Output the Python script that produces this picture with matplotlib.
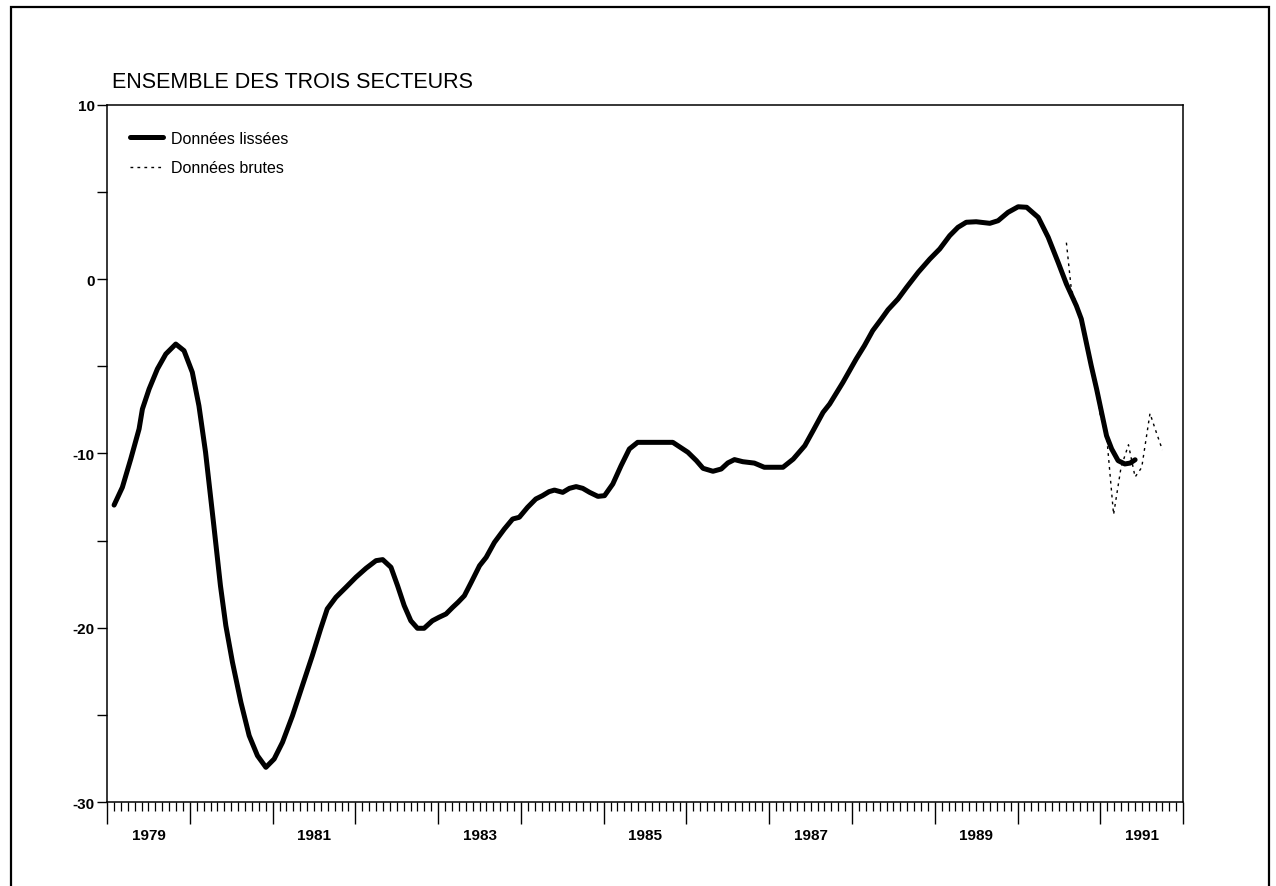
import numpy as np
import matplotlib
matplotlib.use('Agg')
import matplotlib.pyplot as plt
from matplotlib.patches import Rectangle
from matplotlib.ticker import MultipleLocator, NullFormatter

plt.rcParams['font.family'] = ['Liberation Sans', 'DejaVu Sans']

# Données lissées (années décimales)
smooth_t = [1979.085, 1979.185, 1979.286, 1979.387, 1979.427, 1979.508, 1979.608, 1979.71,
            1979.83, 1979.93, 1980.03, 1980.11, 1980.19, 1980.29, 1980.37, 1980.435,
            1980.515, 1980.617, 1980.717, 1980.817, 1980.919, 1981.019, 1981.12, 1981.24,
            1981.36, 1981.48, 1981.58, 1981.66, 1981.765, 1981.886, 1982.007, 1982.128,
            1982.249, 1982.33, 1982.43, 1982.51, 1982.59, 1982.67, 1982.75, 1982.83,
            1982.93, 1983.01, 1983.095, 1983.175, 1983.24, 1983.317, 1983.40, 1983.50,
            1983.58, 1983.68, 1983.80, 1983.90, 1983.98, 1984.08, 1984.18, 1984.26,
            1984.34, 1984.405, 1984.505, 1984.586, 1984.667, 1984.747, 1984.83, 1984.93,
            1985.01, 1985.11, 1985.21, 1985.31, 1985.41, 1985.635, 1985.835, 1986.017,
            1986.12, 1986.20, 1986.32, 1986.42, 1986.50, 1986.58, 1986.68, 1986.82,
            1986.94, 1987.166, 1987.29, 1987.43, 1987.53, 1987.65, 1987.73, 1987.89,
            1988.05, 1988.15, 1988.25, 1988.355, 1988.435, 1988.556, 1988.66, 1988.80,
            1988.94, 1989.06, 1989.18, 1989.28, 1989.38, 1989.50, 1989.665, 1989.765,
            1989.885, 1990.007, 1990.11, 1990.25, 1990.37, 1990.49, 1990.59, 1990.71,
            1990.77, 1990.83, 1990.89, 1990.955, 1991.015, 1991.075, 1991.137, 1991.215,
            1991.296, 1991.36, 1991.42]
smooth_v = [-12.96, -11.94, -10.32, -8.59, -7.45, -6.30, -5.15, -4.29,
            -3.72, -4.10, -5.34, -7.26, -9.93, -14.14, -17.59, -19.88,
            -21.98, -24.28, -26.19, -27.34, -28.01, -27.53, -26.57, -25.05,
            -23.32, -21.60, -20.07, -18.92, -18.25, -17.68, -17.10, -16.59,
            -16.15, -16.09, -16.53, -17.59, -18.73, -19.60, -20.03, -20.03,
            -19.60, -19.40, -19.21, -18.83, -18.54, -18.16, -17.39, -16.44,
            -15.96, -15.10, -14.33, -13.76, -13.66, -13.09, -12.61, -12.42,
            -12.19, -12.10, -12.23, -12.00, -11.90, -12.00, -12.23, -12.46,
            -12.42, -11.75, -10.70, -9.74, -9.36, -9.36, -9.36, -9.93,
            -10.41, -10.85, -11.02, -10.89, -10.54, -10.35, -10.47, -10.55,
            -10.79, -10.79, -10.32, -9.55, -8.69, -7.64, -7.16, -5.92,
            -4.58, -3.81, -2.95, -2.28, -1.75, -1.13, -0.46, 0.40,
            1.16, 1.74, 2.50, 2.98, 3.27, 3.30, 3.21, 3.36,
            3.84, 4.16, 4.13, 3.55, 2.41, 0.97, -0.27, -1.52,
            -2.28, -3.62, -4.96, -6.30, -7.64, -8.98, -9.74, -10.41,
            -10.60, -10.55, -10.36]

# Données brutes (mensuelles)
raw_t = [1990.59, 1990.65, 1990.75, 1990.83, 1990.92, 1991.00, 1991.08, 1991.16,
         1991.25, 1991.34, 1991.42, 1991.50, 1991.60, 1991.67, 1991.75]
raw_v = [2.1, -0.6, -1.9, -3.4, -5.6, -7.8, -9.2, -13.5,
         -10.8, -9.5, -11.35, -10.8, -7.7, -8.7, -9.8]

year_labels = [1979, 1981, 1983, 1985, 1987, 1989, 1991]
y_labels = [10, 0, -10, -20, -30]

fig = plt.figure(figsize=(12.76, 8.87), dpi=100)
ax = fig.add_axes([0.0839, 0.0947, 0.8433, 0.7858])

ax.plot(smooth_t, smooth_v, color='black', lw=3.6, solid_capstyle='round',
        solid_joinstyle='round', label='Données lissées')
ax.plot(raw_t, raw_v, color='black', lw=1.0, linestyle=(0, (2, 3)),
        label='Données brutes')

ax.set_xlim(1979, 1992)
ax.set_ylim(-30, 10)

# axe des x : années et mois
ax.set_xticks(np.arange(1979, 1993))
ax.xaxis.set_major_formatter(NullFormatter())
ax.xaxis.set_minor_locator(MultipleLocator(1 / 12))
ax.tick_params(axis='x', which='major', direction='out', length=16, width=1.0)
ax.tick_params(axis='x', which='minor', direction='out', length=6.5, width=0.9)
for yr in year_labels:
    ax.text(yr + 0.5, -0.048, str(yr), transform=ax.get_xaxis_transform(),
            ha='center', va='center', fontsize=11, fontweight='bold')

# axe des y
yt = np.arange(-30, 11, 5)
ax.set_yticks(yt)
ax.set_yticklabels([str(v) if v in y_labels else '' for v in yt],
                   fontsize=11, fontweight='bold')
ax.tick_params(axis='y', direction='out', length=7, width=1.0, pad=2)

for sp in ax.spines.values():
    sp.set_linewidth(1.1)

ax.legend(loc='upper left', bbox_to_anchor=(0.021, 0.963), frameon=False,
          borderaxespad=0, borderpad=0, handlelength=2.1, handletextpad=0.5,
          labelspacing=0.9, prop={'size': 11.5})

fig.text(0.0878, 0.9075, 'ENSEMBLE DES TROIS SECTEURS', ha='left', va='center',
         fontsize=15.5)

# cadre extérieur
fig.add_artist(Rectangle((0.0086, -0.05), 0.986, 1.041, transform=fig.transFigure,
                         fill=False, lw=1.6, edgecolor='black'))

fig.savefig('out.png', dpi=100)
